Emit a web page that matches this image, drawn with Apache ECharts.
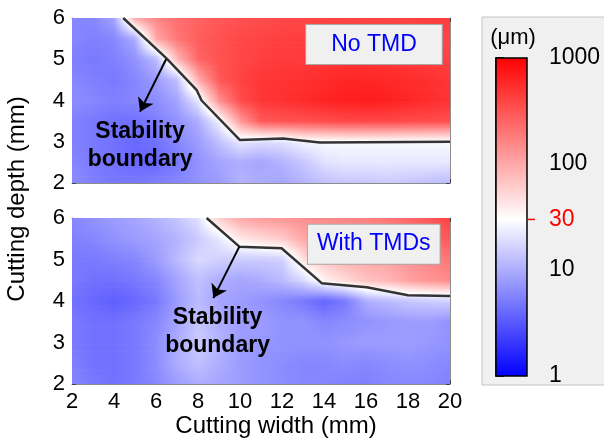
<!DOCTYPE html>
<html>
<head>
<meta charset="utf-8">
<script src="https://cdn.jsdelivr.net/npm/echarts@6/dist/echarts.min.js"></script>
<style>html,body{margin:0;padding:0;background:#fff}#c{width:604px;height:445px}</style>
</head>
<body>
<div id="c"></div>
<script>
// ---------------- data ----------------
const widths = [2,3,4,5,6,7,8,9,10,11,12,13,14,15,16,17,18,19,20];   // cutting width (mm)
const depths = [2,2.5,3,3.5,4,4.5,5,5.5,6];                            // cutting depth (mm)

// vibration amplitude (µm); one row per depth (2 -> 6), one column per width (2 -> 20)
const noTmdValues = [
  [6.5,5.5,5,5,5.5,6,7,8,11,10,9,11,13,14,14,15,14,13,12],
  [6,5,4.5,4,4,5,7,9,10,9,11,14,20,22,22,22,22,22,22],
  [5.5,5,4.5,4,4.5,6,8,13,22,19,20,26,28,28,28,28,28,28,28],
  [5.5,5,4.5,4.5,5.5,7,10,25,120,300,320,330,350,380,380,380,360,350,340],
  [6.5,6,5.5,6,6.5,9,22,140,350,480,520,560,620,650,680,650,600,550,500],
  [6,5.5,5,6,8,13,90,300,400,480,500,520,560,600,600,580,550,520,480],
  [5.5,5,5.5,7,12,80,250,330,380,420,450,450,460,470,470,460,450,430,400],
  [6,5.5,6,10,100,200,280,330,370,400,420,430,430,430,430,430,420,400,380],
  [6,6,9,100,160,220,260,300,330,350,370,380,390,400,400,400,400,420,450]
];
const withTmdValues = [
  [6,5,4.5,5,6,8,10,9,8,7,6.5,6,6,5.5,5.5,6,6,6,5.5],
  [5.5,4.5,4.5,5,6.5,10,13,10,8,7,6.5,6,6,6.5,6,6.5,7,6.5,6],
  [5,4.5,4.5,5,6.5,10,15,11,8,7.5,7,7,7,7.5,8,8,8,7.5,7],
  [5,4.5,4.5,5,6,9,14,10,8,8,7,7,6,6.5,7,7.5,8,8,7],
  [4.5,4,3.5,4,5,8,12,9,8,7,6,5,3.8,5,10,12,14,15,16],
  [5,4.5,4.5,5,6,9,13,10,9,10,12,18,36,50,70,80,110,130,150],
  [5,5,5.5,6,8,12,18,16,15,15,16,45,70,90,100,110,130,160,200],
  [5.5,6,7,8,9,11,15,22,40,50,60,100,110,120,130,150,180,220,300],
  [6,7,8,9,11,14,20,60,100,120,130,140,150,160,170,200,240,300,420]
];

// stability boundaries
const noTmdBoundaryX = [4.44,6.5,7.94,8.17,10,12.05,13.8,20];
const noTmdBoundaryY = [6,5.02,4.25,4.0,3.04,3.08,2.98,3.0];
const withTmdBoundaryX = [8.41,9.97,11.98,13.89,16.03,18.0,20];
const withTmdBoundaryY = [6,5.31,5.27,4.43,4.33,4.14,4.12];

// annotation arrows (start, end) and text anchors, in data units
const noTmdArrow = [[6.48,5.0],[5.24,3.73]];
const withTmdArrow = [[9.97,5.31],[8.73,4.07]];
const noTmdNote = [5.24,2.9];
const withTmdNote = [8.93,3.25];
const noTmdTag = [16.38,5.36];
const withTmdTag = [16.37,5.37];

// axes
const xMin = 2, xMax = 20, xStep = 2;
const yMin = 2, yMax = 6, yStep = 1;
const colorMin = 1, colorMax = 1000, thresholdValue = 30;

// ---------------- colour map (log scale, blue - white(30) - red) ----------------
const LMIN = Math.log10(colorMin), LMAX = Math.log10(colorMax), LW = Math.log10(thresholdValue);
function col(L){
  let r,g,b;
  if (L <= LW){
    const t = Math.max(0, Math.min(1, (L - LMIN)/(LW - LMIN)));
    r = g = Math.round(255*t); b = 255;
  } else {
    const s = Math.max(0, Math.min(1, (L - LW)/(LMAX - LW)));
    r = 255; g = b = Math.round(255*(1-s));
  }
  return 'rgb('+r+','+g+','+b+')';
}

function cellItems(values){
  const items = [];
  for (let j=0;j<depths.length-1;j++){
    for (let i=0;i<widths.length-1;i++){
      items.push([widths[i], depths[j], widths[i+1], depths[j+1],
        Math.log10(values[j][i]), Math.log10(values[j][i+1]),
        Math.log10(values[j+1][i]), Math.log10(values[j+1][i+1])]);
    }
  }
  return items;
}

function renderCell(params, api){
  const x0=api.value(0), y0=api.value(1), x1=api.value(2), y1=api.value(3);
  const l00=api.value(4), l10=api.value(5), l01=api.value(6), l11=api.value(7);
  const pA = api.coord([x0,y1]);
  const pB = api.coord([x1,y0]);
  const left = pA[0], top = pA[1], w = pB[0]-pA[0], h = pB[1]-pA[1];
  const n = 12;
  const children = [];
  for (let k=0;k<n;k++){
    const fy = 1 - (k+0.5)/n;
    const lL = l00 + (l01-l00)*fy, lR = l10 + (l11-l10)*fy;
    const stops = [{offset:0, color:col(lL)}];
    if ((lL-LW)*(lR-LW) < 0){
      stops.push({offset:(LW-lL)/(lR-lL), color:'rgb(255,255,255)'});
    }
    stops.push({offset:1, color:col(lR)});
    children.push({
      type:'rect', silent:true,
      shape:{x:left, y:top + h*k/n, width:w+0.7, height:h/n+0.7},
      style:{fill:{type:'linear', x:0, y:0, x2:1, y2:0, colorStops:stops}}
    });
  }
  return {type:'group', children};
}

const FONT = 'Liberation Sans, Arial, sans-serif';

function renderColorbar(params, api){
  const pTop = api.coord([0, colorMax]);
  const pBot = api.coord([1, colorMin]);
  const tick = api.coord([1, thresholdValue]);
  const fWhite = (LMAX - LW)/(LMAX - LMIN);
  return {type:'group', children:[
    {type:'rect', shape:{x:pTop[0], y:pTop[1], width:pBot[0]-pTop[0], height:pBot[1]-pTop[1]},
     style:{fill:{type:'linear', x:0, y:0, x2:0, y2:1, colorStops:[
       {offset:0, color:'rgb(255,0,0)'}, {offset:fWhite, color:'rgb(255,255,255)'}, {offset:1, color:'rgb(0,0,255)'}]},
       stroke:'#000', lineWidth:1.5}},
    {type:'line', shape:{x1:tick[0], y1:tick[1], x2:tick[0]+8, y2:tick[1]},
     style:{stroke:'#ff0000', lineWidth:1.5}},
    {type:'text', x:tick[0]+22, y:tick[1],
     style:{text:String(thresholdValue), fill:'#ff0000', fontSize:23, fontFamily:FONT,
            align:'left', verticalAlign:'middle', textAlign:'left', textVerticalAlign:'middle'}}
  ]};
}

const zip = (xs, ys) => xs.map((x,i) => [x, ys[i]]);

function xAx(gridIndex, position, labels, extra){
  return Object.assign({
    type:'value', gridIndex, position, min:xMin, max:xMax, interval:xStep,
    axisLine:{show:true, onZero:false, lineStyle:{color:'#8c8c8c', width:1}},
    axisTick:{show:true, inside:true, length:4, lineStyle:{color:'#444'}},
    axisLabel:{show:labels, fontSize:22, margin:7, color:'#000', fontFamily:FONT},
    splitLine:{show:false}
  }, extra||{});
}
function yAx(gridIndex, position, labels){
  return {
    type:'value', gridIndex, position, min:yMin, max:yMax, interval:yStep,
    axisLine:{show:true, onZero:false, lineStyle:{color:'#8c8c8c', width:1}},
    axisTick:{show:true, inside:true, length:4, lineStyle:{color:'#444'}},
    axisLabel:{show:labels, fontSize:22, margin:7, color:'#000', fontFamily:FONT},
    splitLine:{show:false}
  };
}

function panelSeries(ax, values, bx, by, arrow, note, tag, tagText, tagPad){
  return [
    {type:'custom', xAxisIndex:ax, yAxisIndex:ax, data:cellItems(values), renderItem:renderCell,
     silent:true, clip:true, z:1},
    {type:'line', xAxisIndex:ax, yAxisIndex:ax, data:zip(bx,by), symbol:'none', silent:true,
     lineStyle:{color:'#333', width:2.5}, z:3},
    {type:'lines', coordinateSystem:'cartesian2d', xAxisIndex:ax, yAxisIndex:ax, silent:true,
     symbol:['none','arrow'], symbolSize:13, data:[{coords:arrow}],
     lineStyle:{color:'#000', width:2, opacity:1}, z:4},
    {type:'scatter', xAxisIndex:ax, yAxisIndex:ax, silent:true, symbolSize:1,
     itemStyle:{color:'rgba(0,0,0,0)', opacity:1}, data:[note], z:5,
     label:{show:true, position:'inside', formatter:'Stability\nboundary', fontSize:23,
            fontWeight:'bold', lineHeight:28, color:'#000', opacity:1, fontFamily:FONT}},
    {type:'scatter', xAxisIndex:ax, yAxisIndex:ax, silent:true, symbolSize:1,
     itemStyle:{color:'rgba(0,0,0,0)', opacity:1}, data:[tag], z:6,
     label:{show:true, position:'inside', formatter:tagText, fontSize:23, color:'#0000ff', opacity:1,
            fontFamily:FONT, backgroundColor:'#f0f0f0', borderColor:'#a8a8a8', borderWidth:1,
            padding:tagPad}}
  ];
}

const chart = echarts.init(document.getElementById('c'), null, {renderer:'canvas'});
chart.setOption({
  animation:false,
  backgroundColor:'#fff',
  textStyle:{fontFamily:FONT},
  graphic:[
    {type:'rect', z:-10, shape:{x:482, y:17, width:140, height:368},
     style:{fill:'#f0f0f0', stroke:'#c4c4c4', lineWidth:1}},
    {type:'text', x:513, y:38, style:{text:'(μm)', fontSize:22, fontFamily:FONT, fill:'#000',
      align:'center', verticalAlign:'middle', textAlign:'center', textVerticalAlign:'middle'}},
    {type:'text', x:17, y:199, rotation:Math.PI/2, style:{text:'Cutting depth (mm)', fontSize:24,
      fontFamily:FONT, fill:'#000', align:'center', verticalAlign:'middle', textAlign:'center', textVerticalAlign:'middle'}}
  ],
  grid:[
    {left:72, top:18, width:378, height:165},
    {left:72, top:218, width:378, height:166},
    {left:496, top:58, width:31, height:318}
  ],
  xAxis:[
    xAx(0,'bottom',false),
    xAx(0,'top',false),
    xAx(1,'bottom',true,{name:'Cutting width (mm)', nameLocation:'middle', nameGap:30,
      nameTextStyle:{fontSize:24, color:'#000', fontFamily:FONT, padding:[0,0,0,30]}}),
    xAx(1,'top',false),
    {type:'value', gridIndex:2, min:0, max:1, show:false}
  ],
  yAxis:[
    yAx(0,'left',true),
    yAx(0,'right',false),
    yAx(1,'left',true),
    yAx(1,'right',false),
    {type:'log', logBase:10, gridIndex:2, position:'right', min:colorMin, max:colorMax,
     axisLine:{show:true, lineStyle:{color:'#000', width:1.5}},
     axisTick:{show:true, inside:false, length:8, lineStyle:{color:'#000', width:1.5}},
     axisLabel:{show:true, fontSize:23, margin:22, color:'#000', fontFamily:FONT,
                formatter:(v) => String(Math.round(v))},
     splitLine:{show:false}, minorTick:{show:false}}
  ],
  series:[].concat(
    panelSeries(0, noTmdValues, noTmdBoundaryX, noTmdBoundaryY, noTmdArrow, noTmdNote, noTmdTag, 'No TMD', [8,25]),
    panelSeries(2, withTmdValues, withTmdBoundaryX, withTmdBoundaryY, withTmdArrow, withTmdNote, withTmdTag, 'With TMDs', [8,9]),
    [{type:'custom', xAxisIndex:4, yAxisIndex:4, data:[[0,1]], renderItem:renderColorbar, silent:true, z:3}]
  )
});
</script>
</body>
</html>
